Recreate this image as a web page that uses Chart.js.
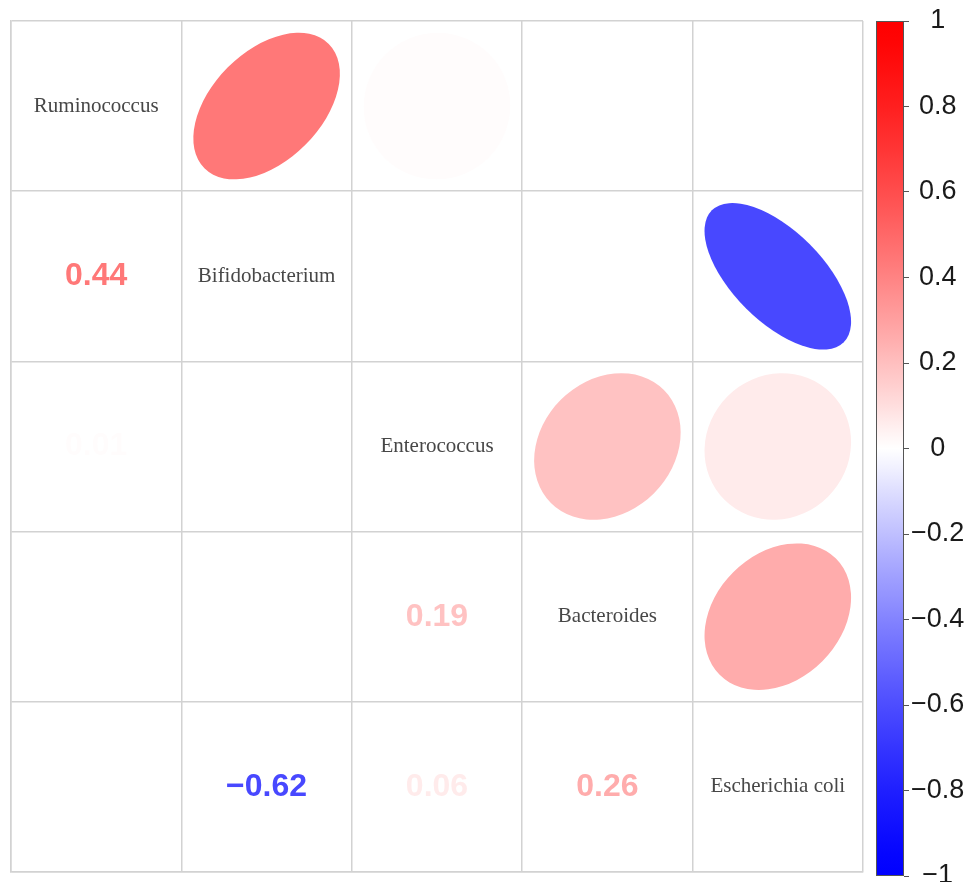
<!DOCTYPE html>
<html>
<head>
<meta charset="utf-8">
<script src="https://cdn.jsdelivr.net/npm/chart.js@4/dist/chart.umd.min.js"></script>
<style>
  html, body { margin: 0; padding: 0; background: #ffffff; }
  #wrap { position: relative; width: 968px; height: 882px; background: #ffffff; }
  #matrix { position: absolute; left: 0; top: 0; }
  #bar { position: absolute; left: 870px; top: 0; }
</style>
</head>
<body>
<div id="wrap">
  <canvas id="matrix" width="870" height="882"></canvas>
  <canvas id="bar" width="98" height="882"></canvas>
</div>
<script>
// Taxa on the diagonal, in matrix order
const taxa = ['Ruminococcus', 'Bifidobacterium', 'Enterococcus', 'Bacteroides', 'Escherichia coli'];

// Correlated pairs: row index, column index (upper triangle) and Spearman r
const pairRow = [0, 0, 1, 2, 2, 3];
const pairCol = [1, 2, 4, 3, 4, 4];
const pairR   = [0.44, 0.01, -0.62, 0.19, 0.06, 0.26];

// Colour key ticks
const colorbarTicks = [1, 0.8, 0.6, 0.4, 0.2, 0, -0.2, -0.4, -0.6, -0.8, -1];

// blue - white - red ramp
function corrColor(r) {
  const t = Math.min(1, Math.abs(r));
  const c = Math.round(255 * Math.pow(1 - t, 1.3));
  return r >= 0 ? `rgb(255,${c},${c})` : `rgb(${c},${c},255)`;
}

function fmtR(r) {
  return r.toFixed(2).replace('-', '\u2212');
}

const diagData = taxa.map((name, i) => ({ x: i + 0.5, y: i + 0.5, name }));
const ellipseData = pairR.map((r, k) => ({ x: pairCol[k] + 0.5, y: pairRow[k] + 0.5, r }));
const numberData = pairR.map((r, k) => ({ x: pairRow[k] + 0.5, y: pairCol[k] + 0.5, r }));

const cellPainter = {
  id: 'cellPainter',
  afterDatasetsDraw(chart) {
    const ctx = chart.ctx;
    const xs = chart.scales.x;
    const cell = Math.abs(xs.getPixelForValue(1) - xs.getPixelForValue(0));
    const R = cell * 0.43;
    chart.data.datasets.forEach((ds, di) => {
      const meta = chart.getDatasetMeta(di);
      meta.data.forEach((el, i) => {
        const d = ds.data[i];
        ctx.save();
        if (ds.kind === 'ellipse') {
          // corrplot-style ellipse: x = cos(t + a/2), y = cos(t - a/2), a = acos(r)
          const a = Math.acos(Math.max(-1, Math.min(1, d.r)));
          const major = Math.SQRT2 * Math.cos(a / 2) * R;
          const minor = Math.SQRT2 * Math.sin(a / 2) * R;
          ctx.beginPath();
          ctx.ellipse(el.x, el.y, Math.max(major, 0.5), Math.max(minor, 0.5), -Math.PI / 4, 0, Math.PI * 2);
          ctx.fillStyle = corrColor(d.r);
          ctx.fill();
        } else if (ds.kind === 'number') {
          ctx.font = 'bold 32px "Liberation Sans", Arial, sans-serif';
          ctx.textAlign = 'center';
          ctx.textBaseline = 'middle';
          ctx.fillStyle = corrColor(d.r);
          ctx.fillText(fmtR(d.r), el.x, el.y);
        } else if (ds.kind === 'name') {
          ctx.font = '21px "Liberation Serif", "DejaVu Serif", serif';
          ctx.textAlign = 'center';
          ctx.textBaseline = 'middle';
          ctx.fillStyle = '#474747';
          ctx.fillText(d.name, el.x, el.y);
        }
        ctx.restore();
      });
    });
  }
};

const whiteBg = {
  id: 'whiteBg',
  beforeDraw(chart) {
    const ctx = chart.ctx;
    ctx.save();
    ctx.fillStyle = '#ffffff';
    ctx.fillRect(0, 0, chart.width, chart.height);
    ctx.restore();
  }
};

const gridAxis = {
  type: 'linear',
  min: 0,
  max: 5,
  ticks: { display: false, stepSize: 1 },
  grid: { color: '#d2d2d2', lineWidth: 1.5, drawTicks: false },
  border: { display: true, color: '#d2d2d2', width: 1.5 }
};

new Chart(document.getElementById('matrix'), {
  type: 'scatter',
  data: {
    datasets: [
      { kind: 'ellipse', data: ellipseData, pointRadius: 0 },
      { kind: 'number', data: numberData, pointRadius: 0 },
      { kind: 'name', data: diagData, pointRadius: 0 }
    ]
  },
  options: {
    responsive: false,
    animation: false,
    events: [],
    layout: { padding: { left: 11, top: 21, right: 7, bottom: 10 } },
    plugins: { legend: { display: false }, tooltip: { enabled: false } },
    scales: {
      x: Object.assign({}, gridAxis, { position: 'bottom' }),
      y: Object.assign({}, gridAxis, { position: 'left', reverse: true })
    }
  },
  plugins: [whiteBg, cellPainter]
});

// Colour key: gradient bar drawn over the value axis
const gradientBar = {
  id: 'gradientBar',
  beforeDatasetsDraw(chart) {
    const ctx = chart.ctx;
    const area = chart.chartArea;
    const ys = chart.scales.y;
    const top = ys.getPixelForValue(1);
    const bottom = ys.getPixelForValue(-1);
    const g = ctx.createLinearGradient(0, top, 0, bottom);
    for (let s = 0; s <= 40; s++) {
      const v = 1 - s / 20;
      g.addColorStop(s / 40, corrColor(v));
    }
    ctx.save();
    ctx.fillStyle = g;
    ctx.fillRect(area.left, top, area.right - area.left, bottom - top);
    ctx.strokeStyle = '#555555';
    ctx.lineWidth = 1;
    ctx.strokeRect(area.left + 0.5, top + 0.5, area.right - area.left - 1, bottom - top - 1);
    ctx.restore();
  }
};

new Chart(document.getElementById('bar'), {
  type: 'scatter',
  data: { datasets: [{ data: [], pointRadius: 0 }] },
  options: {
    responsive: false,
    animation: false,
    events: [],
    layout: { padding: { left: 6, top: 21, right: 0, bottom: 6 } },
    plugins: { legend: { display: false }, tooltip: { enabled: false } },
    scales: {
      x: { display: false, min: 0, max: 1 },
      y: {
        position: 'right',
        min: -1,
        max: 1,
        afterBuildTicks(scale) {
          scale.ticks = colorbarTicks.map(v => ({ value: v }));
        },
        afterFit(scale) {
          scale.width = 64;
          scale.paddingTop = 0;
          scale.paddingBottom = 0;
        },
        ticks: {
          autoSkip: false,
          padding: 2,
          crossAlign: 'center',
          color: '#1a1a1a',
          font: { family: '"Liberation Sans", Arial, sans-serif', size: 27 },
          callback: v => String(v).replace('-', '\u2212')
        },
        grid: { drawOnChartArea: false, drawTicks: true, tickLength: 5, color: '#555555', lineWidth: 1 },
        border: { display: false }
      }
    }
  },
  plugins: [whiteBg, gradientBar]
});
</script>
</body>
</html>
